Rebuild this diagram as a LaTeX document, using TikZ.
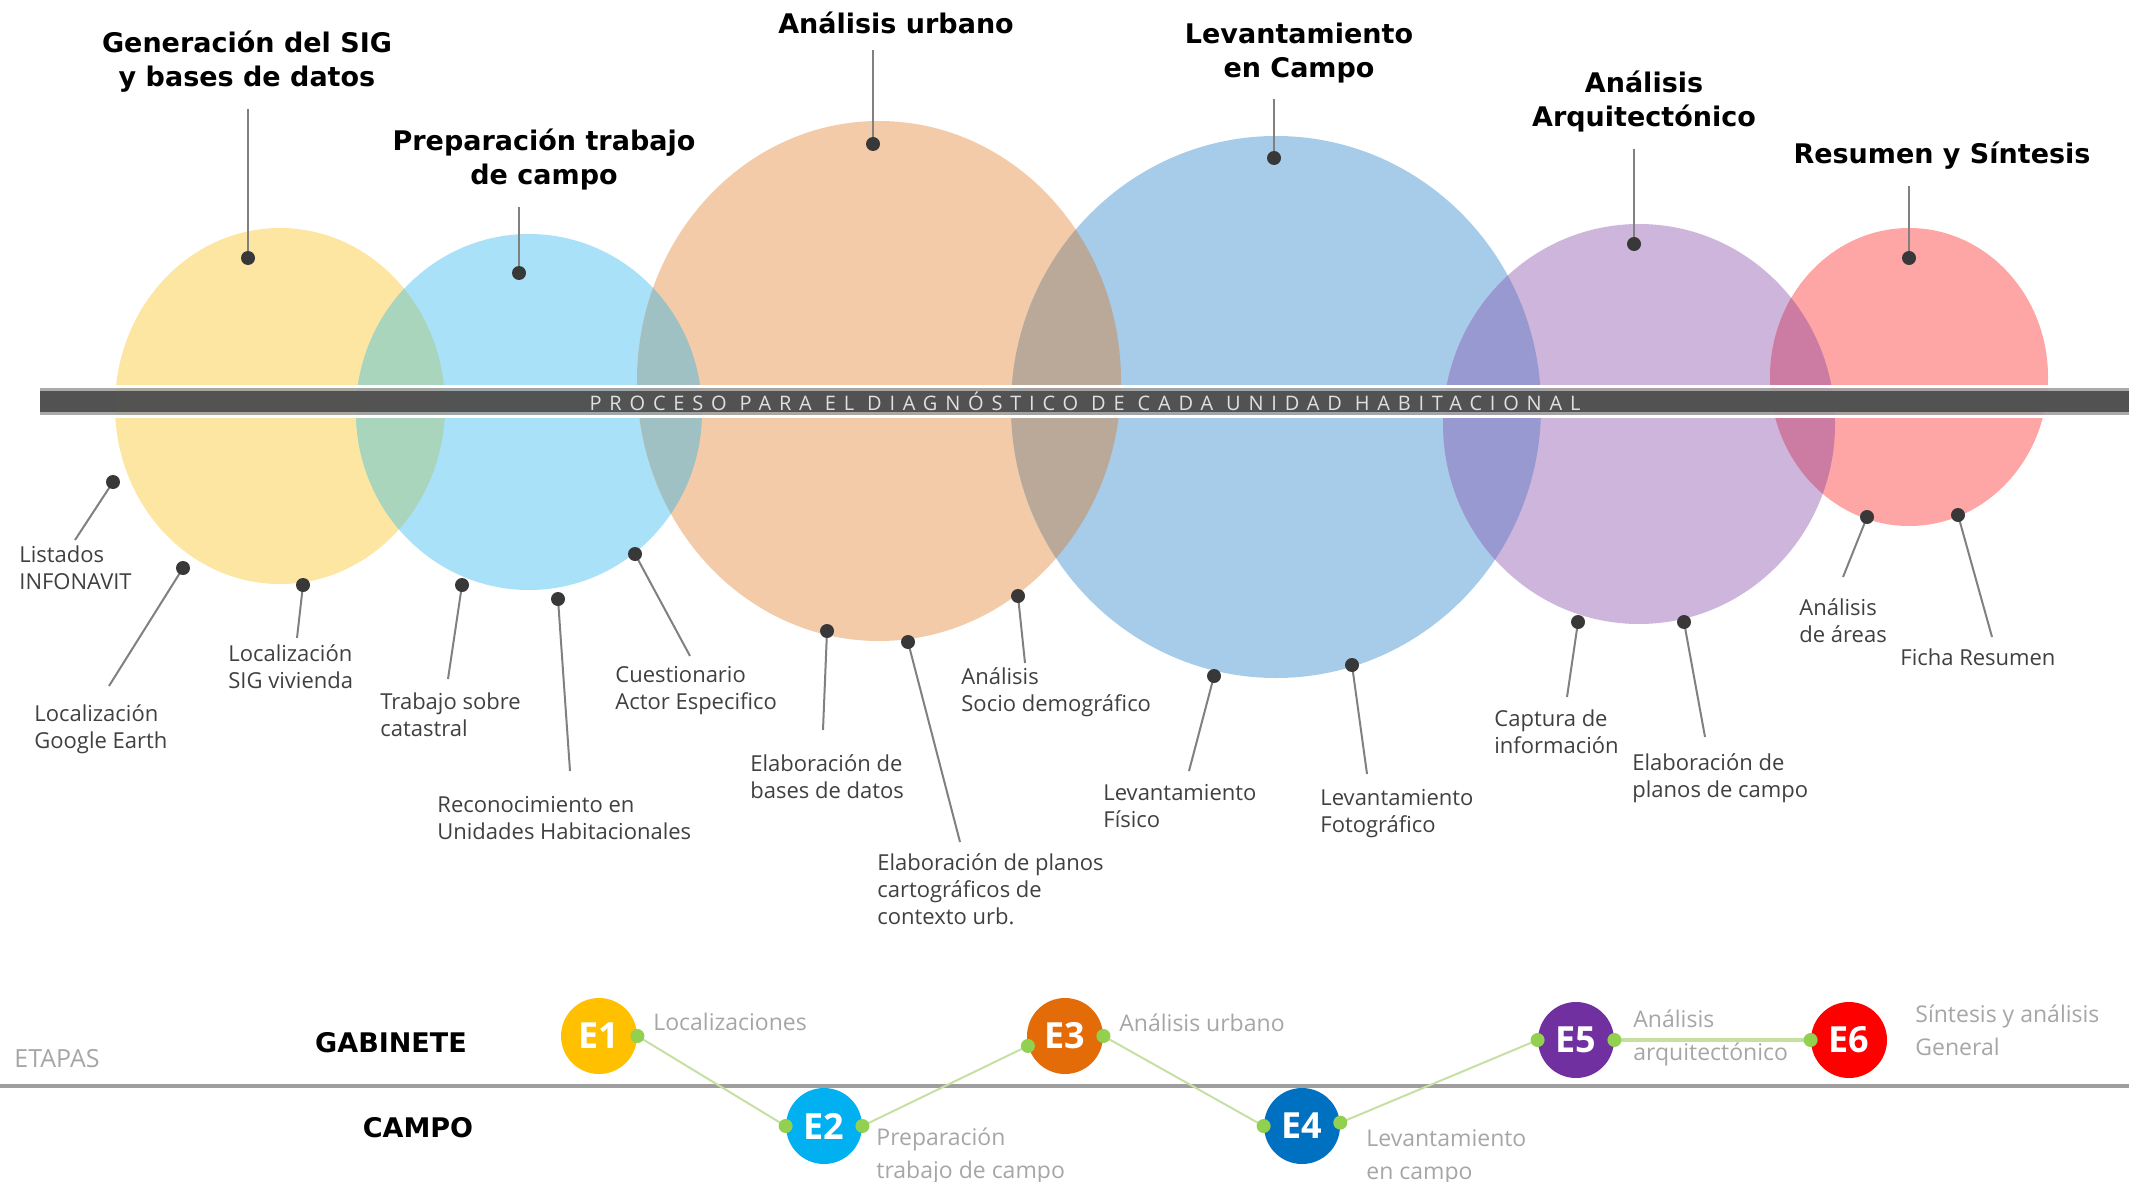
\documentclass[tikz,border=0pt]{standalone}
\usepackage{fontspec}
\setmainfont{Open Sans}
\newfontfamily\titlefont{DejaVu Sans}
\newfontfamily\barfont[LetterSpace=39]{Open Sans}

\definecolor{cYel}{RGB}{253,229,162}
\definecolor{cCel}{RGB}{168,225,248}
\definecolor{cNar}{RGB}{244,203,168}
\definecolor{cAzu}{RGB}{166,204,233}
\definecolor{cMor}{RGB}{205,181,220}
\definecolor{cRos}{RGB}{254,165,166}
% cruces entre circulos
\definecolor{xYelCel}{RGB}{168,213,188}
\definecolor{xCelNar}{RGB}{160,193,195}
\definecolor{xNarAzu}{RGB}{186,169,152}
\definecolor{xAzuMor}{RGB}{151,153,208}
\definecolor{xMorRos}{RGB}{204,123,163}
\definecolor{cTxt}{RGB}{64,64,64}
\definecolor{cGris}{RGB}{166,166,166}
\definecolor{cLinea}{RGB}{128,128,128}
\definecolor{cVerde}{RGB}{146,208,80}
\definecolor{cVerdeL}{RGB}{198,224,164}
\definecolor{cE1}{RGB}{255,192,0}
\definecolor{cE2}{RGB}{0,176,240}
\definecolor{cE3}{RGB}{227,108,9}
\definecolor{cE4}{RGB}{0,112,192}
\definecolor{cE5}{RGB}{112,48,160}
\definecolor{cE6}{RGB}{255,0,0}

\begin{document}
\begin{tikzpicture}[x=0.5pt,y=-0.5pt,
  ttl/.style={font=\titlefont\bfseries\fontsize{13.5}{17}\selectfont, align=center, inner sep=0},
  itm/.style={font=\fontsize{11}{13.5}\selectfont, text=cTxt, align=left, anchor=north west, inner sep=0},
  leader/.style={draw=cLinea, line width=1pt},
  punto/.style={fill=black!78},
  etapa/.style={circle, minimum size=38pt, inner sep=0, text=white, font=\bfseries\fontsize{18}{18}\selectfont},
  etapalbl/.style={font=\fontsize{11.5}{16.5}\selectfont, text=cGris, align=left, anchor=north west, inner sep=0},
  enlace/.style={draw=cVerdeL, line width=1pt}]

\useasboundingbox (0,0) rectangle (2129,1182);

% circulos de cada etapa
\fill[cYel] (280,406) ellipse (165 and 178);
\fill[cCel] (529,412) ellipse (173 and 178);
\fill[cNar] (879,381) ellipse (242 and 260);
\fill[cAzu] (1276,407) ellipse (265 and 271);
\fill[cMor] (1639,424) ellipse (196 and 200);
\fill[cRos] (1909,377) ellipse (139 and 149);

\begin{scope}
  \clip (280,406) ellipse (165 and 178);
  \fill[xYelCel] (529,412) ellipse (173 and 178);
\end{scope}
\begin{scope}
  \clip (529,412) ellipse (173 and 178);
  \fill[xCelNar] (879,381) ellipse (242 and 260);
\end{scope}
\begin{scope}
  \clip (879,381) ellipse (242 and 260);
  \fill[xNarAzu] (1276,407) ellipse (265 and 271);
\end{scope}
\begin{scope}
  \clip (1276,407) ellipse (265 and 271);
  \fill[xAzuMor] (1639,424) ellipse (196 and 200);
\end{scope}
\begin{scope}
  \clip (1639,424) ellipse (196 and 200);
  \fill[xMorRos] (1909,377) ellipse (139 and 149);
\end{scope}

% barra
\fill[white] (0,385) rectangle (2129,388);
\fill[white] (0,415) rectangle (2129,418);
\fill[black!37, opacity=0.9] (40,388) rectangle (2129,415);
\fill[black!71, opacity=0.9] (40,391) rectangle (2129,412);
\node[font=\barfont\fontsize{10}{10}\selectfont, text=black!12, inner sep=0] (barra) at (1085,401)
  {PROCESO PARA EL DIAGNÓSTICO DE CADA UNIDAD HABITACIONAL};

% titulos
\node[ttl] (tGen) at (247,62) {Generación del SIG\\y bases de datos};
\node[ttl] (tPrep) at (544,160) {Preparación trabajo\\de campo};
\node[ttl] (tUrb) at (896,23) {Análisis urbano};
\node[ttl] (tLev) at (1299,53) {Levantamiento\\en Campo};
\node[ttl] (tArq) at (1644,102) {Análisis\\Arquitectónico};
\node[ttl] (tRes) at (1942,156) {Resumen y Síntesis};

\coordinate (dGen) at (248,258);
\coordinate (dPrep) at (519,273);
\coordinate (dUrb) at (873,144);
\coordinate (dLev) at (1274,158);
\coordinate (dArq) at (1634,244);
\coordinate (dRes) at (1909,258);

\foreach \t/\d in {tGen/dGen,tPrep/dPrep,tUrb/dUrb,tLev/dLev,tArq/dArq,tRes/dRes}{
  \draw[leader, shorten >=8pt] (\d) -- (\d |- \t.south);
  \fill[punto] (\d) circle (7);
}

% actividades
\node[itm] (aList) at (19,545) {Listados\\INFONAVIT};
\node[itm] (aGoog) at (34,704) {Localización\\Google Earth};
\node[itm] (aSig) at (228,644) {Localización\\SIG vivienda};
\node[itm] (aCat) at (380,692) {Trabajo sobre\\catastral};
\node[itm] (aRec) at (437,796) {Reconocimiento en\\Unidades Habitacionales};
\node[itm] (aCue) at (615,666) {Cuestionario\\Actor Especifico};
\node[itm] (aBd) at (750,754) {Elaboración de\\bases de datos};
\node[itm] (aCar) at (877,853) {Elaboración de planos\\cartográficos de\\contexto urb.};
\node[itm] (aSoc) at (961,667) {Análisis\\Socio demográfico};
\node[itm] (aFis) at (1103,784) {Levantamiento\\Físico};
\node[itm] (aFot) at (1320,789) {Levantamiento\\Fotográfico};
\node[itm] (aCap) at (1494,709) {Captura de\\información};
\node[itm] (aPla) at (1632,753) {Elaboración de\\planos de campo};
\node[itm] (aAre) at (1799,598) {Análisis\\de áreas};
\node[itm] (aFic) at (1900,648) {Ficha Resumen};

\foreach \n/\x/\y/\u/\v in {List/113/482/75/540, Goog/183/568/109/686, Sig/303/585/297/638,
    Cat/462/585/448/679, Rec/558/599/570/771, Cue/635/554/690/656, Bd/827/631/823/730,
    Car/908/642/960/842, Soc/1018/596/1025/663, Fis/1214/676/1189/771, Fot/1352/665/1367/774,
    Cap/1578/622/1567/697, Pla/1684/622/1705/737, Are/1867/517/1843/577, Fic/1958/515/1992/637}{
  \coordinate (p\n) at (\x,\y);
  \coordinate (q\n) at (\u,\v);
  \draw[leader] (p\n) -- (q\n);
  \fill[punto] (p\n) circle (7);
}

% etapas
\draw[line width=2pt, black!38] (0,1086) -- (2129,1086);
\node[anchor=west, inner sep=0, text=cGris, font=\fontsize{12.5}{12.5}\selectfont] (etapas) at (14,1059) {ETAPAS};
\node[ttl] (gab) at (391,1043) {GABINETE};
\node[ttl] (cam) at (418,1128) {CAMPO};

\node[etapa, fill=cE1] (E1) at (599,1036) {E1};
\node[etapa, fill=cE2] (E2) at (824,1126) {E2};
\node[etapa, fill=cE3] (E3) at (1065,1036) {E3};
\node[etapa, fill=cE4] (E4) at (1302,1126) {E4};
\node[etapa, fill=cE5] (E5) at (1576,1040) {E5};
\node[etapa, fill=cE6] (E6) at (1849,1040) {E6};

\draw[enlace] (E1.east) -- (E2.west);
\draw[enlace] (E2.east) -- (E3.195);
\draw[enlace] (E3.east) -- (E4.west);
\draw[enlace] (E4.5) -- (E5.west);
\draw[enlace, line width=2pt] (E5.east) -- (E6.west);
\foreach \a in {E1.east,E2.west,E2.east,E3.195,E3.east,E4.west,E4.5,E5.west,E5.east,E6.west}
  \fill[cVerde] (\a) circle (7);

\node[etapalbl] (l1) at (653,1013) {Localizaciones};
\node[etapalbl] (l2) at (876,1127) {Preparación\\trabajo de campo};
\node[etapalbl] (l3) at (1119,1013) {Análisis urbano};
\node[etapalbl] (l4) at (1366,1129) {Levantamiento\\en campo};
\node[etapalbl] (l5) at (1633,1009) {Análisis\\arquitectónico};
\node[etapalbl] (l6) at (1915,1004) {Síntesis y análisis\\General};
\end{tikzpicture}
\end{document}
